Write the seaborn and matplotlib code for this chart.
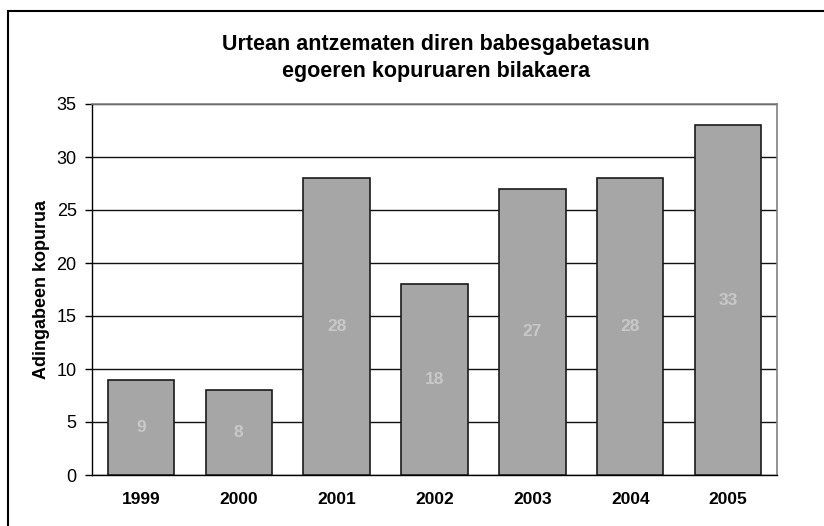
import matplotlib
matplotlib.use("Agg")
import matplotlib.pyplot as plt
import seaborn as sns
import pandas as pd
import numpy as np
from matplotlib.patches import Rectangle

years = ["1999", "2000", "2001", "2002", "2003", "2004", "2005"]
counts = [9, 8, 28, 18, 27, 28, 33]

title = "Urtean antzematen diren babesgabetasun\negoeren kopuruaren bilakaera"
ylabel = "Adingabeen kopurua"

sns.set_theme(style="white")
plt.rcParams['font.family'] = ['Liberation Sans', 'DejaVu Sans']
plt.rcParams['text.color'] = 'black'
plt.rcParams['axes.labelcolor'] = 'black'
plt.rcParams['xtick.color'] = 'black'
plt.rcParams['ytick.color'] = 'black'

df = pd.DataFrame({"year": years, "count": counts})

fig = plt.figure(figsize=(8.24, 5.26), dpi=100)
ax = fig.add_axes([92 / 824, 51 / 526, 685 / 824, 371 / 526])

sns.barplot(data=df, x="year", y="count", color="#a6a6a6", saturation=1,
            width=0.68, edgecolor="#1a1a1a", linewidth=1.2, ax=ax, zorder=3)

ax.set_ylim(0, 35)
ax.set_xlim(-0.5, len(years) - 0.5)
ax.set_yticks(range(0, 36, 5))
ax.yaxis.grid(True, color="#111111", linewidth=1.0)
ax.set_axisbelow(True)

# category labels without ticks, ticks at boundaries
ax.set_xticks(range(len(years)))
ax.set_xticklabels(years, fontweight="bold", fontsize=12.5)
ax.tick_params(axis="x", which="major", length=0, pad=12)
ax.set_xticks(np.arange(-0.5, len(years), 1.0), minor=True)
ax.tick_params(axis="x", which="minor", length=5, width=1, color="black", direction="out")
ax.tick_params(axis="y", length=5, width=1, color="black", direction="out",
               labelsize=13, left=True, pad=6)

ax.set_xlabel("")
ax.set_ylabel(ylabel, fontweight="bold", fontsize=13, labelpad=5)

for s in ["left", "bottom"]:
    ax.spines[s].set_color("black")
    ax.spines[s].set_linewidth(1.0)
for s in ["top", "right"]:
    ax.spines[s].set_visible(True)
    ax.spines[s].set_color("#808080")
    ax.spines[s].set_linewidth(1.2)

for i, v in enumerate(counts):
    ax.text(i, v / 2, str(v), ha="center", va="center", color="#c8c8c8",
            fontweight="bold", fontsize=12.5, zorder=4)

fig.text(436 / 824, 1 - 58 / 526, title, ha="center", va="center",
         fontweight="bold", fontsize=15.5, linespacing=1.35)

fig.patches.append(Rectangle((8 / 824, -0.05), 1.2, 1 - 11 / 526 + 0.05,
                             transform=fig.transFigure, fill=False,
                             edgecolor="black", linewidth=1.5))

fig.savefig("out.png", dpi=100)
